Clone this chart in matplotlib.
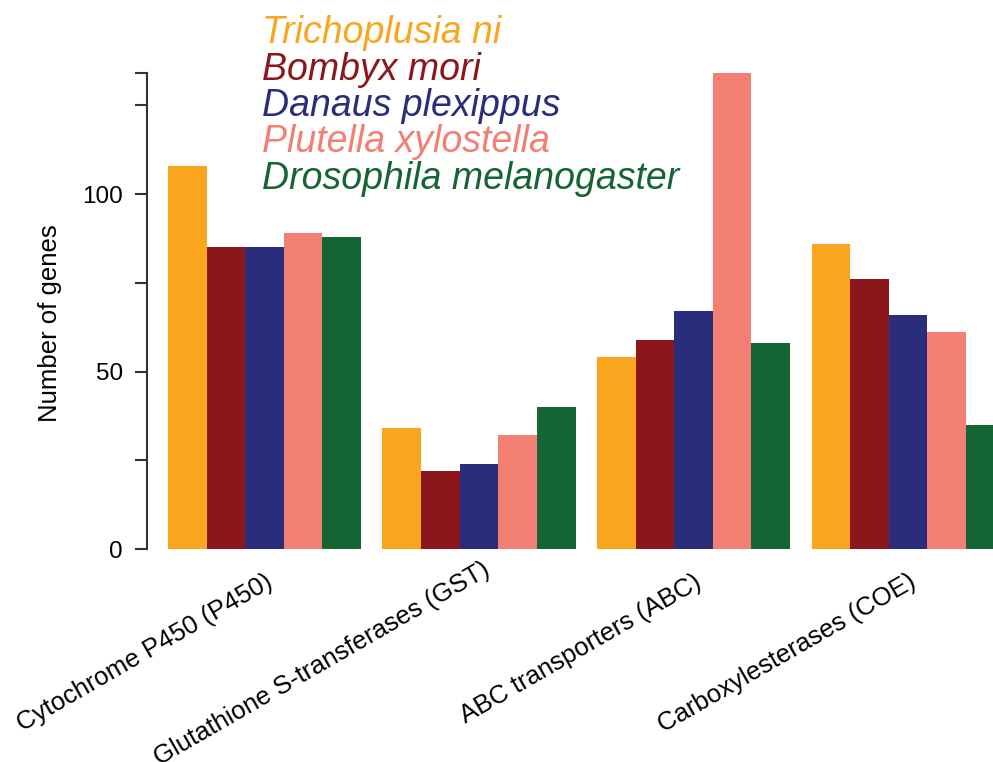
import numpy as np
import matplotlib.pyplot as plt
from matplotlib.transforms import ScaledTranslation

plt.rcParams['font.family'] = ['Liberation Sans', 'DejaVu Sans']

categories = ['Cytochrome P450 (P450)', 'Glutathione S-transferases (GST)',
              'ABC transporters (ABC)', 'Carboxylesterases (COE)']
species = ['Trichoplusia ni', 'Bombyx mori', 'Danaus plexippus',
           'Plutella xylostella', 'Drosophila melanogaster']
colors = ['#F9A51D', '#8B171B', '#2A2D7C', '#F37F72', '#156434']

t_ni = [108, 34, 54, 86]
b_mori = [85, 22, 59, 76]
d_plex = [85, 24, 67, 66]
p_xylo = [89, 32, 134, 61]
d_mel = [88, 40, 58, 35]
values = [t_ni, b_mori, d_plex, p_xylo, d_mel]

fig = plt.figure(figsize=(9.93, 7.62), dpi=100)
ax = fig.add_axes([0.148, 0.2795, 0.852, 0.6243])

x = np.arange(len(categories))
w = 0.18
for i, (vals, col) in enumerate(zip(values, colors)):
    ax.bar(x + (i - 2) * w, vals, width=w, color=col, linewidth=0)

ax.set_xlim(-0.548, 3.396)
ax.set_ylim(0, 134)

for s in ['top', 'right', 'bottom']:
    ax.spines[s].set_visible(False)
ax.spines['left'].set_bounds(0, 134)
ax.spines['left'].set_color('#333333')
ax.spines['left'].set_linewidth(1.5)

ax.set_yticks([0, 25, 50, 75, 100, 125, 134])
ax.set_yticklabels(['0', '', '50', '', '100', '', ''])
ax.tick_params(axis='y', length=8.5, width=1.5, color='#333333', labelsize=17.5, pad=9)
ax.set_ylabel('Number of genes', fontsize=18.5)
ax.yaxis.set_label_coords(-0.100, 0.475)

ax.set_xticks(x)
ax.set_xticklabels(categories, rotation=30, ha='right', rotation_mode='anchor', fontsize=18.5)
ax.tick_params(axis='x', length=0, pad=15)

# the long GST label sits a little higher in the original
lab = ax.get_xticklabels()[1]
lab.set_transform(lab.get_transform() + ScaledTranslation(2 / 72, 9 / 72, fig.dpi_scale_trans))

for i, (name, col) in enumerate(zip(species, colors)):
    fig.text(262 / 993, 1 - (43 + i * 36.5) / 762, name, color=col, fontsize=27,
             style='italic', va='baseline', ha='left')

fig.savefig('out.png', dpi=100)
